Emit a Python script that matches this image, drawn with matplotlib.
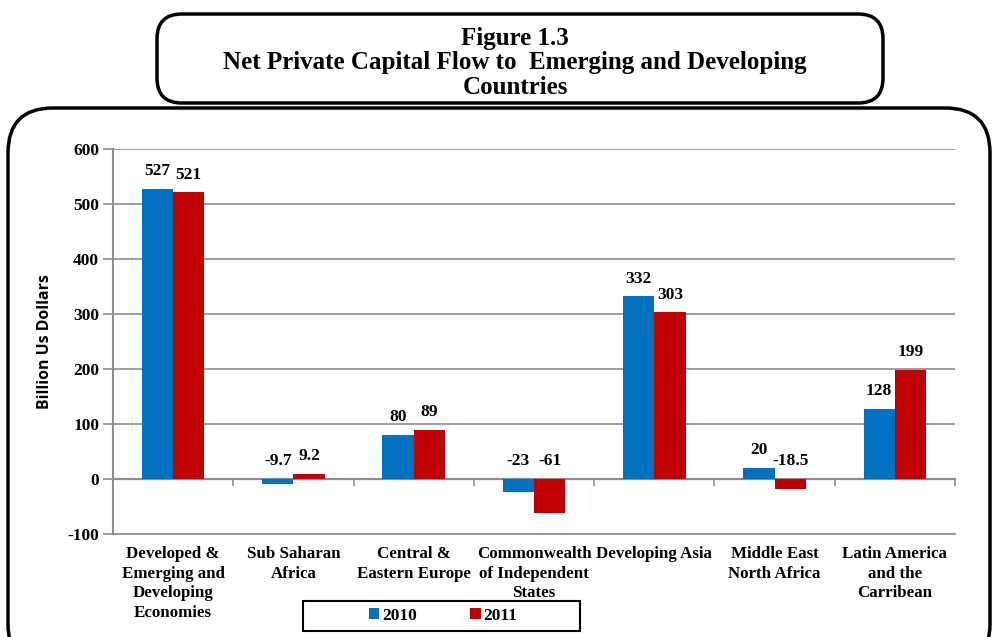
import numpy as np
import matplotlib.pyplot as plt
from matplotlib.patches import FancyBboxPatch, Rectangle

# data
categories = ['Developed &\nEmerging and\nDeveloping\nEconomies', 'Sub Saharan\nAfrica',
              'Central &\nEastern Europe', 'Commonwealth\nof Independent\nStates',
              'Developing Asia', 'Middle East\nNorth Africa', 'Latin America\nand the\nCarribean']
values_2010 = [527, -9.7, 80, -23, 332, 20, 128]
values_2011 = [521, 9.2, 89, -61, 303, -18.5, 199]
labels_2010 = ['527', '-9.7', '80', '-23', '332', '20', '128']
labels_2011 = ['521', '9.2', '89', '-61', '303', '-18.5', '199']
yticks = [-100, 0, 100, 200, 300, 400, 500, 600]

serif = 'Liberation Serif'
blue = '#0070C0'
red = '#C00000'
grid_col = '#8c8c8c'

fig = plt.figure(figsize=(9.97, 6.37), dpi=100)

# outer rounded frame and title box
outer = FancyBboxPatch((8 / 997, -0.05), 982 / 997, 1 - 108 / 637 + 0.05,
                       boxstyle='round,pad=0,rounding_size=0.045', transform=fig.transFigure,
                       fill=False, lw=2.5, ec='black', mutation_aspect=997 / 637)
fig.patches.append(outer)
title_box = FancyBboxPatch((157 / 997, 1 - 103 / 637), 726 / 997, 89 / 637,
                           boxstyle='round,pad=0,rounding_size=0.025', transform=fig.transFigure,
                           fill=False, lw=2.5, ec='black', mutation_aspect=997 / 637)
fig.patches.append(title_box)

fig.text(515 / 997, 1 - 63 / 637,
         'Figure 1.3\nNet Private Capital Flow to  Emerging and Developing\nCountries',
         ha='center', va='center', fontsize=18, fontweight='bold', family=serif,
         linespacing=1.08)

ax = fig.add_axes([113 / 997, 1 - 534 / 637, 842 / 997, 385 / 637])

x = np.arange(len(categories))
w = 0.26
b1 = ax.bar(x - w / 2, values_2010, w, color=blue, label='2010', zorder=3)
b2 = ax.bar(x + w / 2, values_2011, w, color=red, label='2011', zorder=3)

for bars, labs in ((b1, labels_2010), (b2, labels_2011)):
    for rect, lab in zip(bars, labs):
        top = max(rect.get_height(), 0)
        ax.annotate(lab, (rect.get_x() + rect.get_width() / 2, top),
                    xytext=(0, 7), textcoords='offset points', ha='center', va='bottom',
                    fontsize=12.5, fontweight='bold', family=serif)

ax.set_xlim(-0.5, len(categories) - 0.5)
ax.set_ylim(-100, 600)
ax.set_yticks(yticks)
ax.set_yticklabels([str(t) for t in yticks], fontsize=12.5, fontweight='bold', family=serif)
ax.yaxis.grid(True, color=grid_col, lw=1.2, zorder=0)
ax.tick_params(axis='y', length=7, color=grid_col, width=1.2, pad=3)

ax.set_xticks(x)
ax.set_xticklabels(categories, fontsize=12.2, fontweight='bold', family=serif,
                   linespacing=1.28, va='top')
ax.tick_params(axis='x', length=0, pad=9)

for s in ('top', 'right'):
    ax.spines[s].set_visible(False)
ax.spines['bottom'].set_color(grid_col)
ax.spines['bottom'].set_linewidth(1.2)
ax.spines['left'].set_color(grid_col)
ax.spines['left'].set_linewidth(1.5)

# category axis sits on the zero line
zero_axis = ax.secondary_xaxis(100 / 700)
zero_axis.set_xticks(np.arange(len(categories) + 1) - 0.5)
zero_axis.set_xticklabels([])
zero_axis.tick_params(direction='out', length=5, color=grid_col, width=1.2)
zero_axis.spines['bottom'].set_color(grid_col)
zero_axis.spines['bottom'].set_linewidth(1.5)
ax.axhline(0, color=grid_col, lw=1.5, zorder=2)

ax.set_ylabel('Billion Us Dollars', fontsize=11.4, fontweight='bold', family='Open Sans',
              labelpad=10)

# legend with its wide frame
fig.patches.append(Rectangle((303 / 997, 1 - 631 / 637), 277 / 997, 30 / 637,
                             transform=fig.transFigure, fill=False, lw=1.5, ec='black'))
leg = fig.legend(handles=[b1, b2], loc='center', bbox_to_anchor=(443 / 997, 1 - 616 / 637),
                 ncol=2, frameon=False, columnspacing=3.1,
                 handlelength=0.6, handleheight=0.6, handletextpad=0.15,
                 prop={'family': serif, 'weight': 'bold', 'size': 12.5})

fig.savefig('out.png', dpi=100)
